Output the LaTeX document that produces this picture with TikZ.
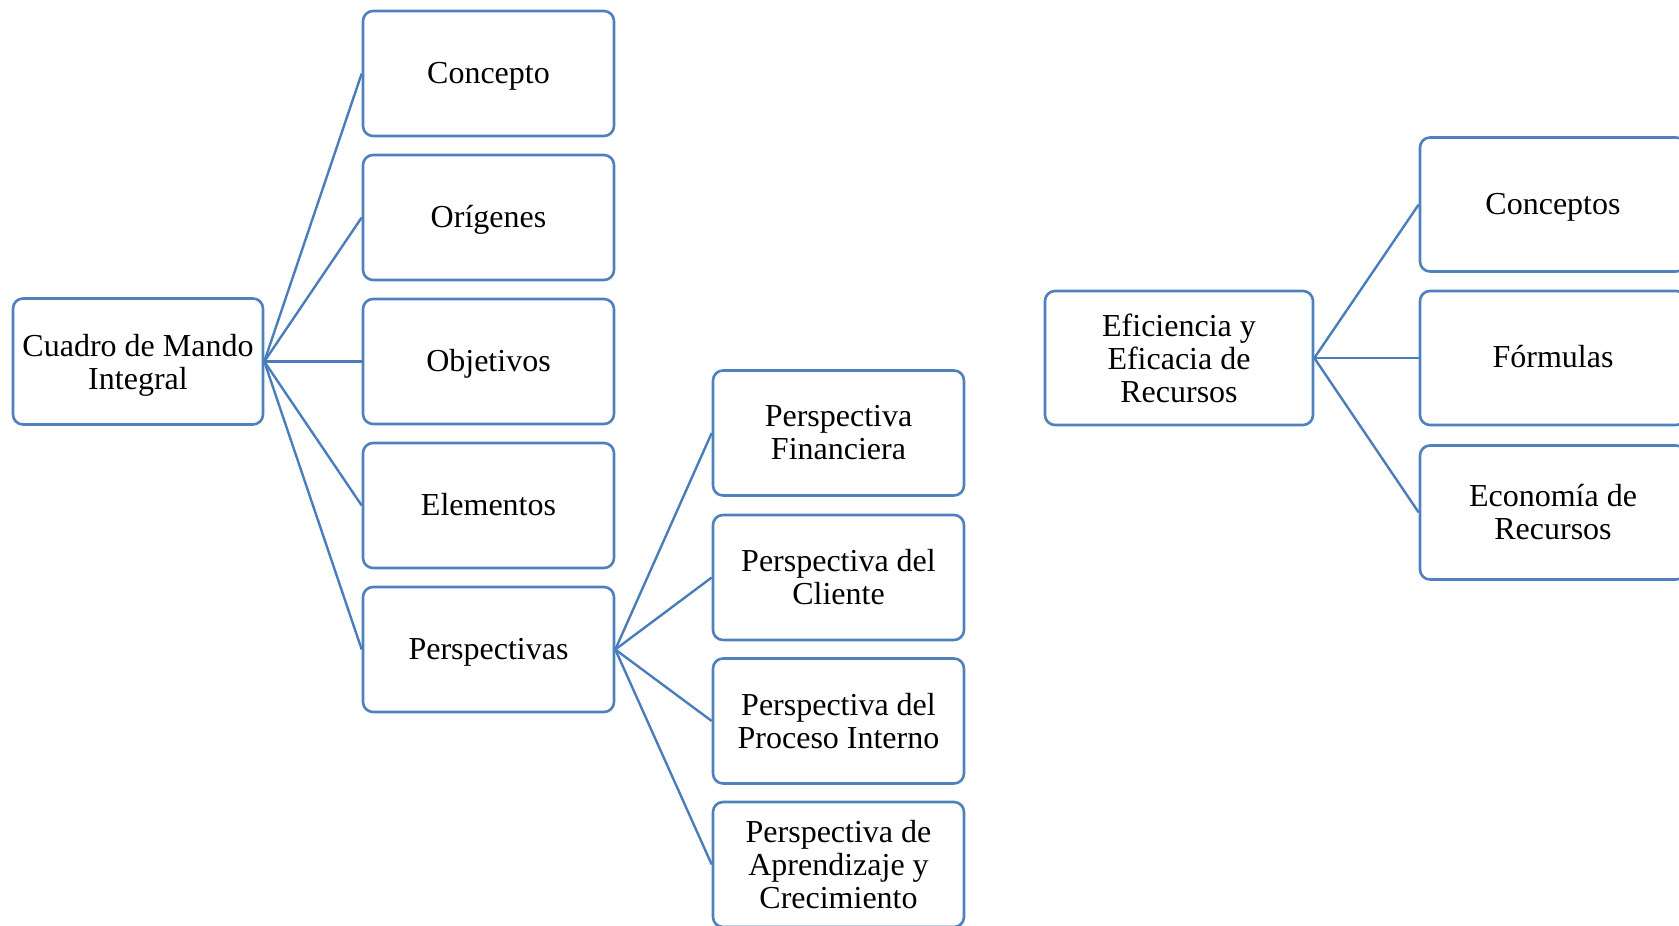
\documentclass[tikz,border=0pt]{standalone}
\usepackage{fontspec}
\setmainfont{Liberation Serif}
\definecolor{boxline}{RGB}{79,129,189}
\definecolor{linkline}{RGB}{74,126,187}
% invisible rule giving a one-line label a fixed height and depth
\newcommand\lnstrut{\rule[-7pt]{0pt}{33pt}}
\begin{document}
\begin{tikzpicture}[x=1pt,y=-1pt,
  card/.style={draw=boxline, line width=2.6pt, rounded corners=10pt, fill=white,
    align=center, inner sep=0pt, font=\fontsize{32}{33}\selectfont},
  single/.style={card, execute at begin node=\lnstrut, execute at end node=\lnstrut},
  link/.style={draw=linkline, line width=2.4pt}]
  \useasboundingbox (0,0) rectangle (1679,926);
  \clip (0,0) rectangle (1679,926);

  % Cuadro de Mando Integral branch
  \node[card, minimum width=250pt, minimum height=126pt] (cmi) at (138,361.5) {Cuadro de Mando\\\smash{Integral}};
  \foreach \n/\y/\t in {con/73.5/Concepto, ori/217.5/Orígenes, obj/361.5/Objetivos,
                         ele/505.5/Elementos, per/649.5/Perspectivas}
    \node[single, minimum width=251pt, minimum height=125pt] (\n) at (488.5,\y) {\t};

  % Perspectivas
  \node[card, minimum width=251pt, minimum height=125pt] (pf) at (838.5,433) {Perspectiva\\Financiera};
  \node[card, minimum width=251pt, minimum height=125pt] (pc) at (838.5,577.5) {Perspectiva del\\Cliente};
  \node[card, minimum width=251pt, minimum height=125pt] (pp) at (838.5,721) {Perspectiva del\\Proceso Interno};
  \node[card, minimum width=251pt, minimum height=125pt] (pa) at (838.5,864.5) {Perspectiva de\\Aprendizaje y\\Crecimiento};

  % Eficiencia y Eficacia branch
  \node[card, minimum width=268pt, minimum height=134pt] (efi) at (1179,358) {Eficiencia y\\Eficacia de\\Recursos};
  \node[single, minimum width=266pt, minimum height=134pt] (cps) at (1553,204.5) {Conceptos};
  \node[single, minimum width=266pt, minimum height=134pt] (frm) at (1553,358) {Fórmulas};
  \node[card, minimum width=266pt, minimum height=134pt] (eco) at (1553,512.5) {Economía de\\Recursos};

  % connectors
  \foreach \n in {con,ori,obj,ele,per}
    \draw[link] (cmi.east) -- (\n.west);
  \foreach \n in {pf,pc,pp,pa}
    \draw[link] (per.east) -- (\n.west);
  \foreach \n in {cps,frm,eco}
    \draw[link] (efi.east) -- (\n.west);
\end{tikzpicture}
\end{document}
